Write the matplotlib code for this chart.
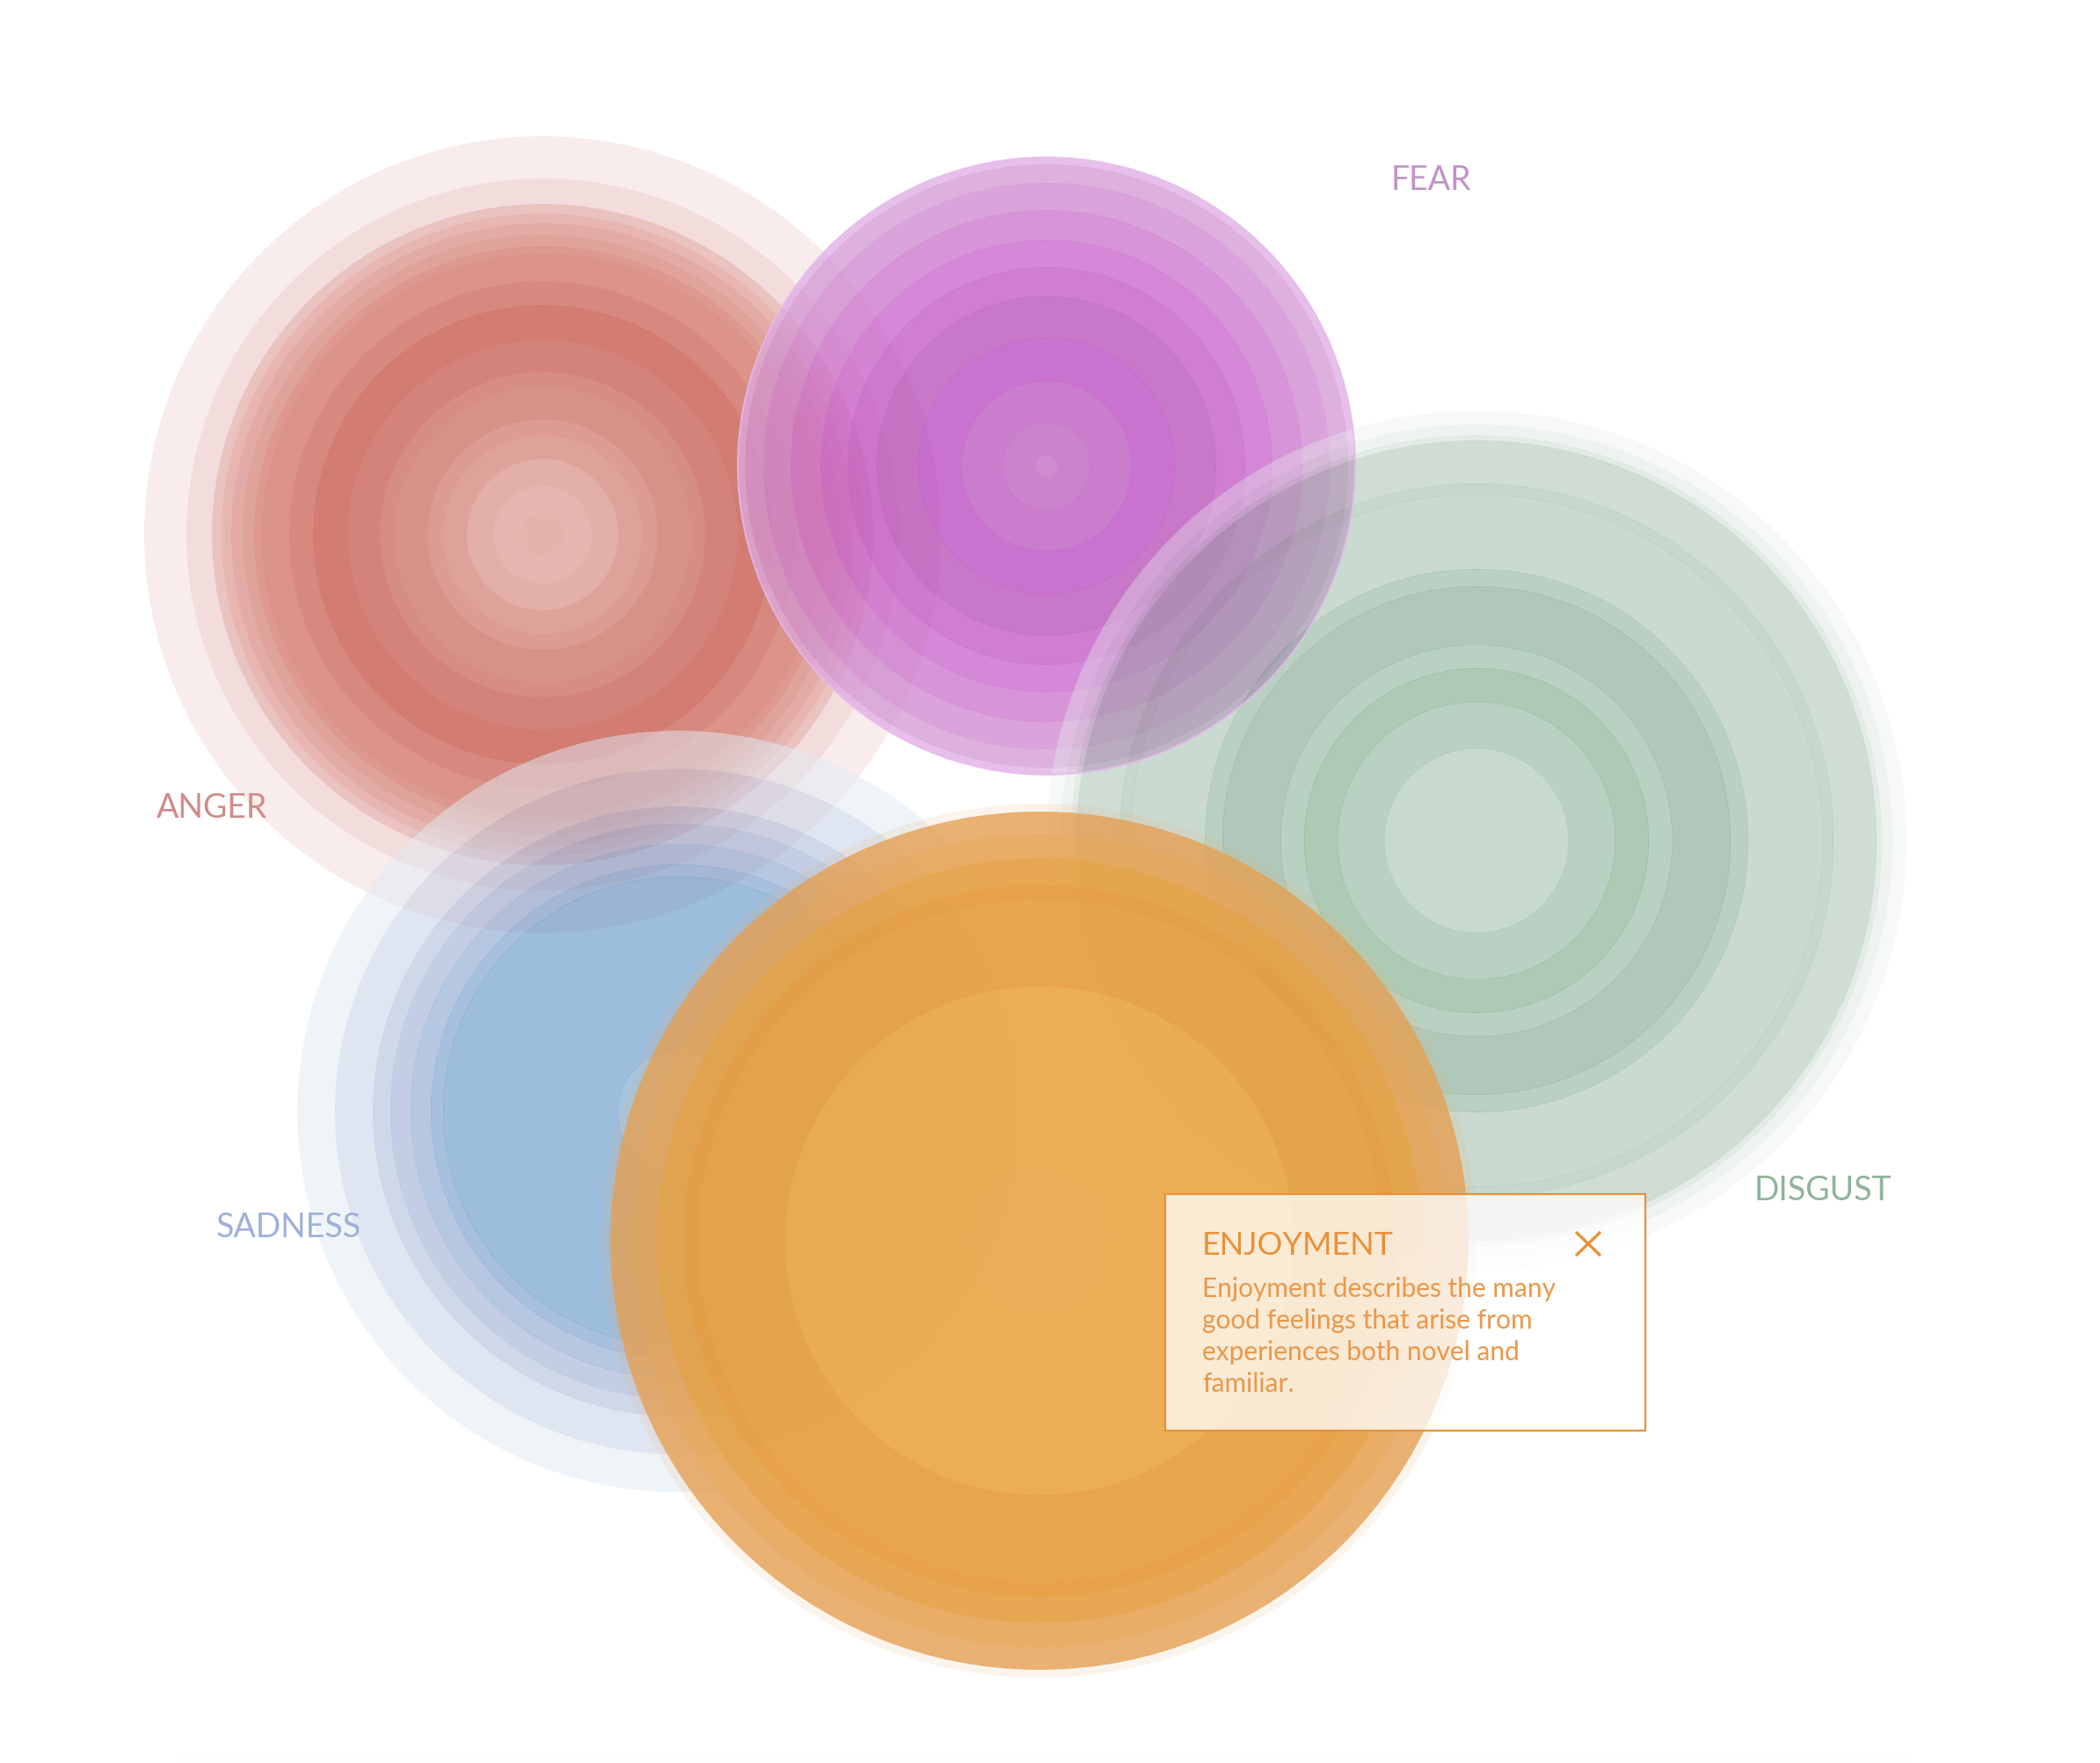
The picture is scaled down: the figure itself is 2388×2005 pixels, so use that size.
import matplotlib
matplotlib.use("Agg")
import matplotlib.pyplot as plt
from matplotlib.patches import Wedge, Circle, Rectangle
from matplotlib.colors import to_rgb

plt.rcParams['font.family'] = ['Lato', 'DejaVu Sans']

# ring radii (px) and observed ring colours, outermost first
anger_radii = [453, 405, 376, 365, 354, 341, 328, 319, 288, 261, 222, 185, 169, 131, 113, 86, 56, 24]
anger_colors = ["#F8ECEC", "#F3DCDC", "#EBC3C0", "#E7B7B2", "#E3ACA5", "#E0A39B", "#DD998F", "#DC9388",
                "#D88A80", "#D27C72", "#D4837A", "#D68D83", "#D89288", "#DC9C94", "#DEA39B", "#E3B1A8",
                "#E5B7AF", "#E5B3AC"]

fear_radii = [351, 343, 322, 291, 257, 226, 193, 146, 97, 50, 13]
fear_colors = ["#E6C0EA", "#DDB0DF", "#DAA3DB", "#D794D8", "#D488D7", "#CF7ED3", "#C878C9", "#C972CF",
               "#C97DCC", "#CB83CC", "#D08CD0"]

sadness_radii = [433, 390, 347, 327, 304, 281, 267, 69]
sadness_colors = ["#F0F5FA", "#E1E7F2", "#D0D9EA", "#C4CFE5", "#B6C8E2", "#A8C1DE", "#9EBEDD", "#A6C5E1"]

disgust_radii = [489, 473, 461, 455, 406, 394, 309, 289, 223, 196, 158, 105]
disgust_colors = ["#F7F9F8", "#EFF4F1", "#E3ECE6", "#D0DED4", "#C7D9CC", "#CCDBD2", "#BAD1C2", "#B1C9B9",
                  "#B9D2C2", "#AECAB6", "#B9D2C2", "#C9DBCF"]

enjoyment_radii = [497, 488, 462, 435, 405, 388, 289, 84]
enjoyment_colors = ["#FBF4EC", "#EAB172", "#E9AD68", "#E8A852", "#E7A24A", "#E8A64C", "#ECAE54", "#EAAE57"]

emotion_names = ["ANGER", "FEAR", "SADNESS", "DISGUST", "ENJOYMENT"]
label_colors = ["#CF8C8A", "#C194C6", "#9DB2D8", "#8FB39A", "#E8913A"]

tooltip_title = "ENJOYMENT"
tooltip_lines = ["Enjoyment describes the many",
                 "good feelings that arise from",
                 "experiences both novel and",
                 "familiar."]

# layout / style
W, H = 2388, 2006
centers = {"ANGER": (617, 609), "FEAR": (1190, 531), "SADNESS": (771, 1265),
           "DISGUST": (1679, 957), "ENJOYMENT": (1182, 1412)}
ring_alpha = {
    "ANGER": [0.85] * len(anger_radii),
    "FEAR": [0.75] * len(fear_radii),
    "SADNESS": [0.5] * len(sadness_radii),
    "DISGUST": [0.36] * len(disgust_radii),
    "ENJOYMENT": [0.15, 0.82, 0.88, 0.93, 0.96, 0.96, 0.96, 0.96],
}
label_pos = {"ANGER": (178, 930), "FEAR": (1582, 216), "SADNESS": (246, 1407), "DISGUST": (1995, 1365)}


def base_color(hex_obs, a):
    # colour that gives hex_obs when laid over white with alpha a
    return tuple(min(1, max(0, 1 - (1 - c) / a)) for c in to_rgb(hex_obs))


def draw_rings(ax, center, radii, colors, alist):
    for i, (r, c, a) in enumerate(zip(radii, colors, alist)):
        fc = base_color(c, a)
        if i + 1 < len(radii):
            # a hair of overlap so no white seam shows between rings
            w = r - radii[i + 1] + 0.35
            ax.add_patch(Wedge(center, r, 0, 360, width=w, facecolor=fc, alpha=a, linewidth=0))
        else:
            ax.add_patch(Circle(center, r, facecolor=fc, alpha=a, linewidth=0))


fig = plt.figure(figsize=(W / 100, H / 100), dpi=100)
ax = fig.add_axes([0, 0, 1, 1])
ax.set_xlim(0, W)
ax.set_ylim(H, 0)
ax.axis("off")

ring_data = {"ANGER": (anger_radii, anger_colors), "FEAR": (fear_radii, fear_colors),
             "SADNESS": (sadness_radii, sadness_colors), "DISGUST": (disgust_radii, disgust_colors),
             "ENJOYMENT": (enjoyment_radii, enjoyment_colors)}

for name in emotion_names:
    radii, cols = ring_data[name]
    draw_rings(ax, centers[name], radii, cols, ring_alpha[name])

# thin outline on fear
ax.add_patch(Circle(centers["FEAR"], fear_radii[0], facecolor="none", edgecolor="#E7B9EC",
                    linewidth=1.5, alpha=0.8))

# faint strip at the bottom
ax.add_patch(Rectangle((200, 1994), 1975, 12, facecolor="#F5F5F5", alpha=0.15, linewidth=0))

for name, col in zip(emotion_names, label_colors):
    if name in label_pos:
        x, y = label_pos[name]
        ax.text(x, y, name, color=col, fontsize=27, va="baseline", ha="left")

# tooltip
orange = label_colors[-1]
ax.add_patch(Rectangle((1325, 1359), 546, 269, facecolor="white", alpha=0.76, linewidth=0))
ax.add_patch(Rectangle((1325, 1359), 546, 269, facecolor="none", edgecolor=orange, linewidth=1.6))
ax.text(1367, 1427, tooltip_title, color=orange, fontsize=26, va="baseline", ha="left")
ax.plot([1792, 1820], [1402, 1429], color=orange, linewidth=2.4, solid_capstyle="butt")
ax.plot([1792, 1820], [1429, 1402], color=orange, linewidth=2.4, solid_capstyle="butt")
for k, line in enumerate(tooltip_lines):
    ax.text(1367, 1475 + 36 * k, line, color="#EA984A", fontsize=21.5, va="baseline", ha="left")

fig.savefig("out.png", dpi=100, facecolor="white")
